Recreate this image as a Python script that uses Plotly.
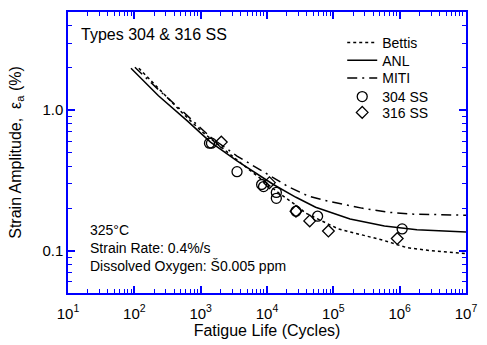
import plotly.graph_objects as go

# ---- data ----
bettis_n = [117, 273, 541, 1072, 2512, 4966, 15310, 27350, 38450, 118600, 589000, 1290000, 2930000, 1.0e7]
bettis_e = [1.99, 1.33, 0.946, 0.697, 0.503, 0.389, 0.256, 0.211, 0.185, 0.143, 0.118, 0.105, 0.100, 0.0955]

anl_n = [89, 231, 641, 1406, 3532, 12480, 27350, 54100, 178700, 589000, 1820000, 1.0e7]
anl_e = [1.99, 1.266, 0.832, 0.593, 0.436, 0.296, 0.240, 0.204, 0.168, 0.150, 0.141, 0.136]

miti_n = [102, 231, 541, 1406, 3532, 8870, 20830, 42640, 84300, 269000, 653000, 1640000, 1.0e7]
miti_e = [2.02, 1.40, 0.977, 0.643, 0.472, 0.365, 0.286, 0.244, 0.225, 0.201, 0.188, 0.182, 0.179]

ss304_n = [1359, 1455, 3532, 8300, 8870, 13830, 13830, 27350, 57900, 1090000]
ss304_e = [0.583, 0.583, 0.365, 0.296, 0.286, 0.260, 0.236, 0.191, 0.176, 0.143]

ss316_n = [2046, 10890, 27350, 44060, 84300, 919000]
ss316_e = [0.593, 0.305, 0.191, 0.163, 0.138, 0.122]

x_tickvals = [1e1, 1e2, 1e3, 1e4, 1e5, 1e6, 1e7]
x_ticktext = ["10<sup>1</sup>", "10<sup>2</sup>", "10<sup>3</sup>", "10<sup>4</sup>",
              "10<sup>5</sup>", "10<sup>6</sup>", "10<sup>7</sup>"]
y_tickvals = [0.1, 1.0]
y_ticktext = ["0.1", "1.0"]

FONT = "Liberation Sans, Arial, sans-serif"
AX = "#0000ff"

x_minor = [m * 10 ** d for d in range(1, 7) for m in range(2, 10)]
y_minor = [0.06, 0.07, 0.08, 0.09] + [m / 10 for m in range(2, 10)] + [2, 3, 4, 5]

fig = go.Figure()
fig.add_trace(go.Scatter(x=bettis_n, y=bettis_e, mode="lines", name="Bettis", legend="legend",
                         line=dict(color="black", width=1.5, dash="dot")))
fig.add_trace(go.Scatter(x=anl_n, y=anl_e, mode="lines", name="ANL", legend="legend2",
                         line=dict(color="black", width=1.5)))
fig.add_trace(go.Scatter(x=miti_n, y=miti_e, mode="lines", name="MITI", legend="legend3",
                         line=dict(color="black", width=1.5, dash="10px,5px,2px,5px")))
fig.add_trace(go.Scatter(x=ss304_n, y=ss304_e, mode="markers", name="304 SS", legend="legend4",
                         marker=dict(symbol="circle-open", size=10, color="black",
                                     line=dict(width=1.3, color="black"))))
fig.add_trace(go.Scatter(x=ss316_n, y=ss316_e, mode="markers", name="316 SS", legend="legend5",
                         marker=dict(symbol="diamond-open", size=9, color="black",
                                     line=dict(width=1.3, color="black"))))

axis_common = dict(showline=True, linecolor=AX, linewidth=1.5, mirror="allticks",
                   ticks="inside", ticklen=7, tickwidth=1.5, tickcolor=AX,
                   showgrid=False, zeroline=False,
                   tickfont=dict(family=FONT, size=15, color="black"))

fig.update_xaxes(type="log", range=[1, 7], tickvals=x_tickvals, ticktext=x_ticktext,
                 ticklabelstandoff=6,
                 title=dict(text="Fatigue Life (Cycles)", font=dict(family=FONT, size=16, color="black"),
                            standoff=2),
                 minor=dict(tickvals=x_minor, ticks="inside", ticklen=4, tickwidth=1.2, tickcolor=AX,
                            showgrid=False),
                 **axis_common)
fig.update_yaxes(type="log", range=[-1.30103, 0.69897], tickvals=y_tickvals, ticktext=y_ticktext,
                 title=dict(text="Strain Amplitude,  ε<sub>a</sub> (%)",
                            font=dict(family=FONT, size=16, color="black"), standoff=17),
                 minor=dict(tickvals=y_minor, ticks="inside", ticklen=4, tickwidth=1.2, tickcolor=AX,
                            showgrid=False),
                 **axis_common)

fig.add_annotation(xref="paper", yref="paper", x=0.028, y=0.92, xanchor="left", yanchor="middle",
                   text="Types 304 &amp; 316 SS", showarrow=False,
                   font=dict(family=FONT, size=16, color="black"))
fig.add_annotation(xref="paper", yref="paper", x=0.05, y=(295 - 249) / 285,
                   xanchor="left", yanchor="middle",
                   text="325°C<br>Strain Rate: 0.4%/s<br>Dissolved Oxygen: Š0.005 ppm",
                   align="left", showarrow=False,
                   font=dict(family=FONT, size=14, color="black"))

leg_common = dict(x=0.689, xanchor="left", yanchor="top", bgcolor="rgba(0,0,0,0)", borderwidth=0,
                  font=dict(family=FONT, size=14, color="black"))
leg_tops = [25, 43, 61, 80, 96]
fig.update_layout(
    width=487, height=345,
    margin=dict(l=68, r=14, t=10, b=50),
    paper_bgcolor="white", plot_bgcolor="white",
    font=dict(family=FONT, color="black"),
    showlegend=True,
    legend=dict(y=(295 - leg_tops[0]) / 285, **leg_common),
    legend2=dict(y=(295 - leg_tops[1]) / 285, **leg_common),
    legend3=dict(y=(295 - leg_tops[2]) / 285, **leg_common),
    legend4=dict(y=(295 - leg_tops[3]) / 285, **leg_common),
    legend5=dict(y=(295 - leg_tops[4]) / 285, **leg_common),
)

fig.write_html("out.html")
